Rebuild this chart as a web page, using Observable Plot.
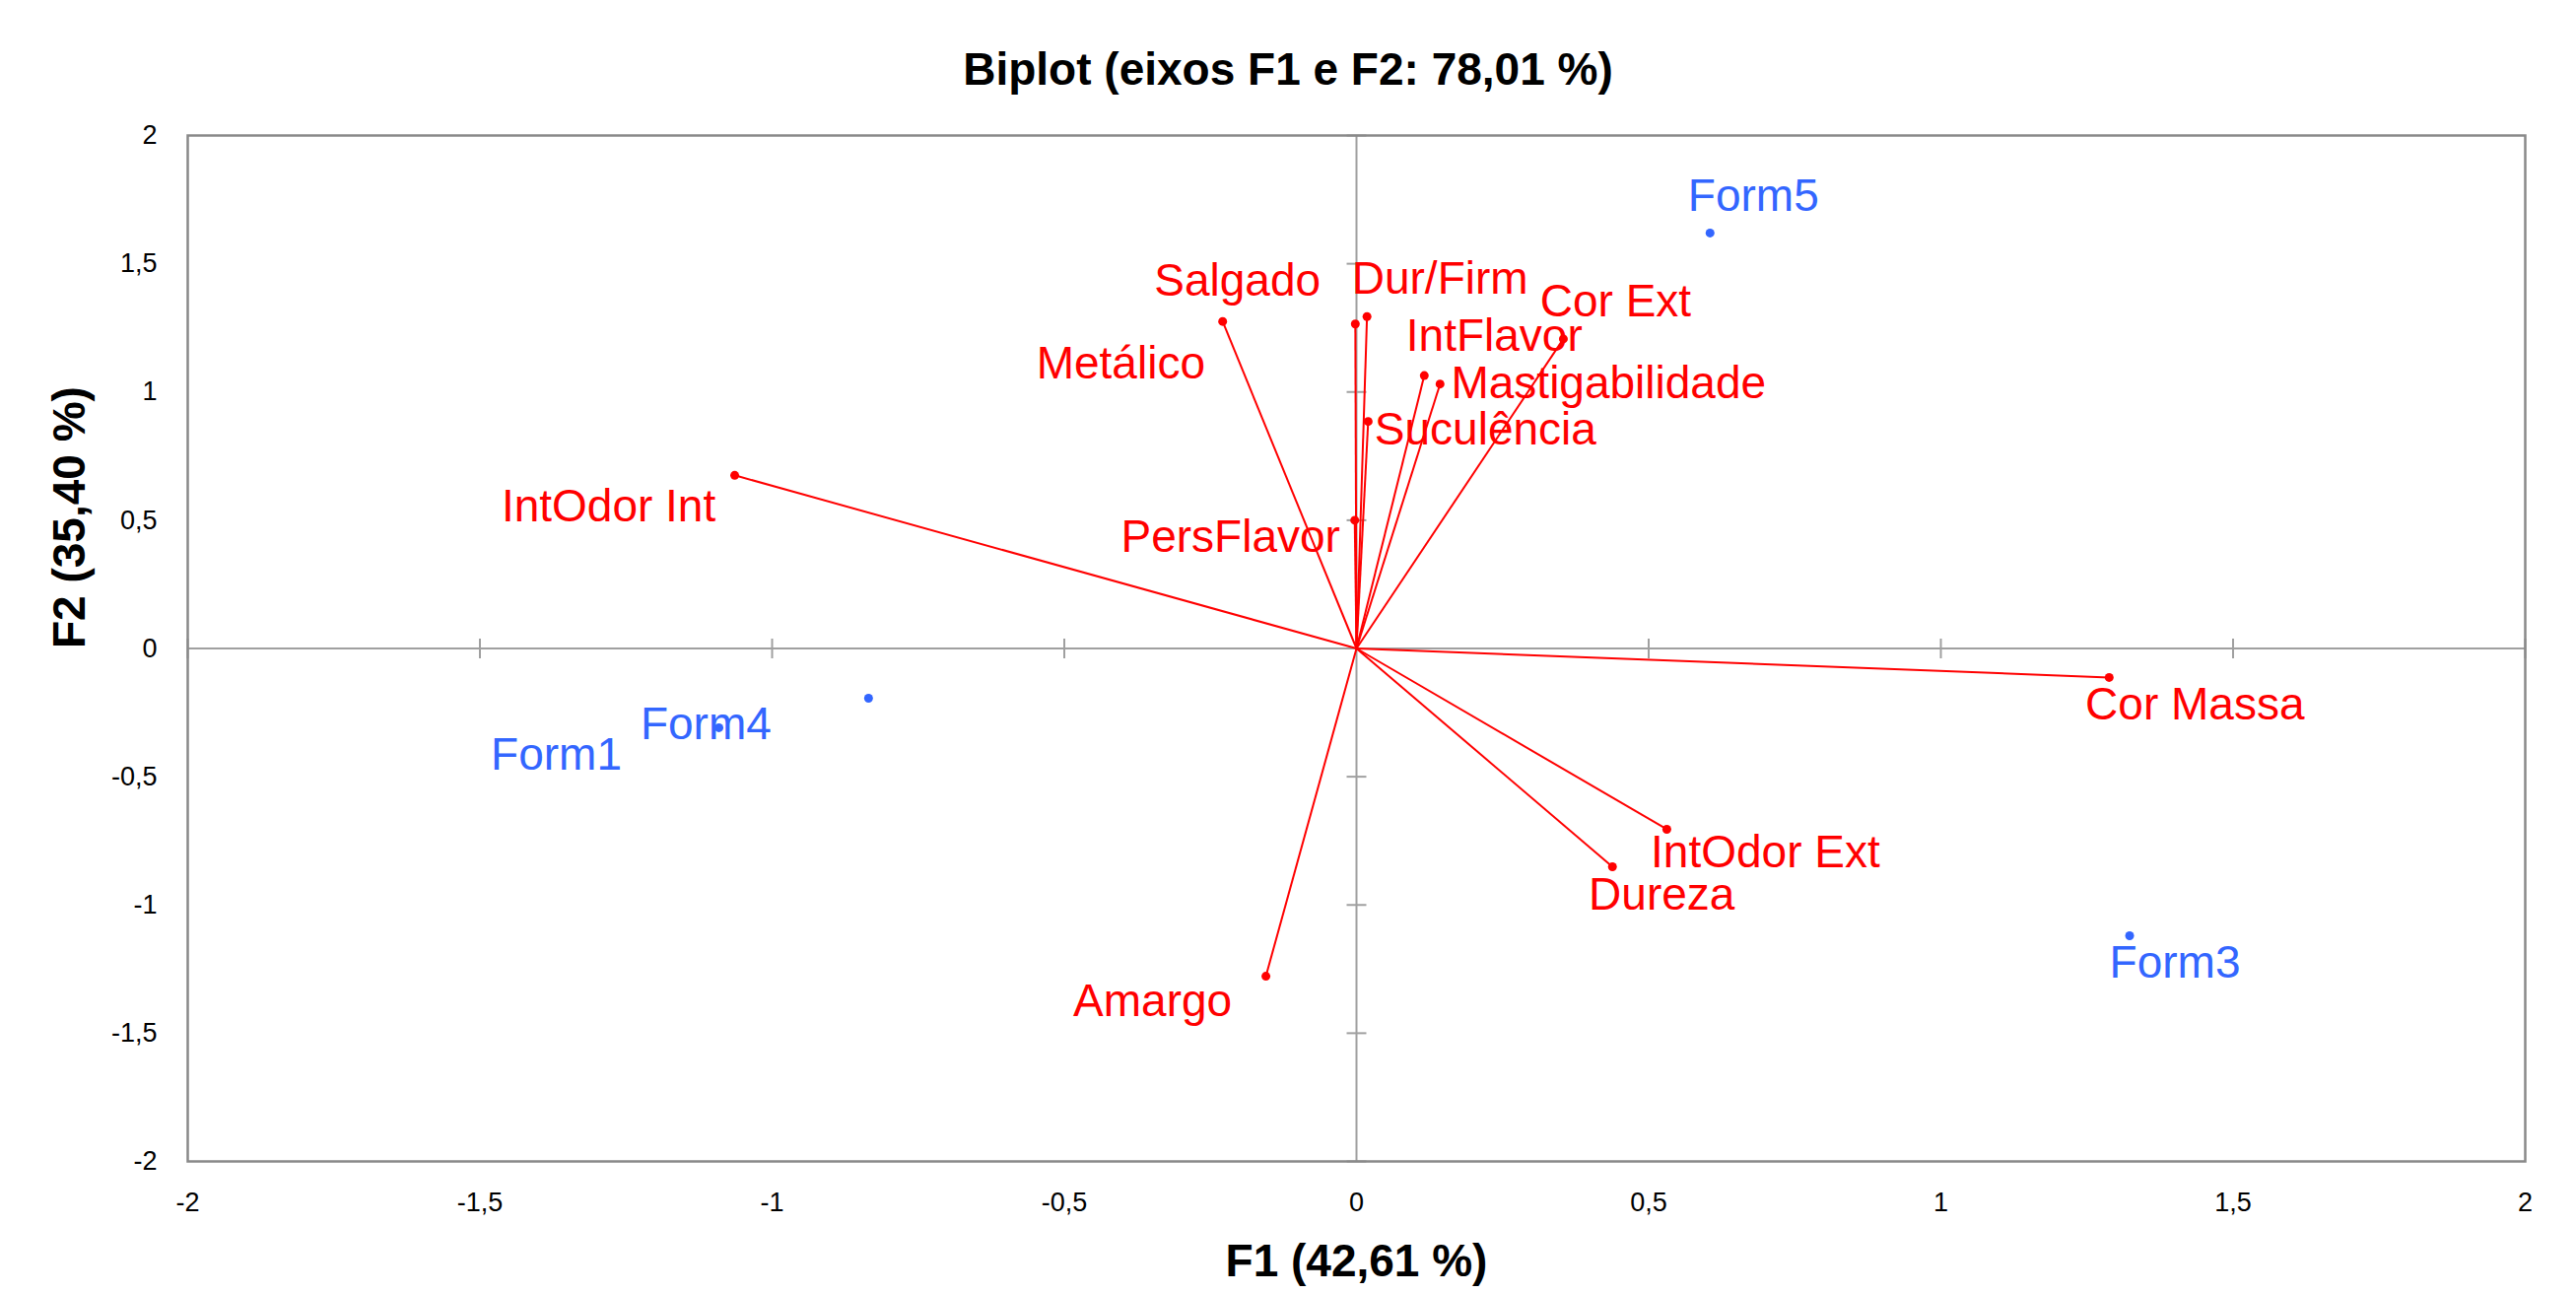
<!DOCTYPE html>
<html>
<head>
<meta charset="utf-8">
<script src="https://cdn.jsdelivr.net/npm/d3@7"></script>
<script src="https://cdn.jsdelivr.net/npm/@observablehq/plot@0.6"></script>
<style>
  html, body { margin: 0; padding: 0; background: #fff; }
  #title { width: 2614px; height: 65px; padding-top: 45px; line-height: 50px; text-align: center;
           font-family: "Liberation Sans", Arial, sans-serif; font-weight: bold; font-size: 46px; color: #000; }
</style>
</head>
<body>
<div id="title">Biplot (eixos F1 e F2: 78,01 %)</div>
<div id="chart"></div>
<script>
// Variables (red vectors)
const varNames = ["IntOdor Int", "Salgado", "Metálico", "Dur/Firm", "Cor Ext", "IntFlavor", "Mastigabilidade", "Suculência", "PersFlavor", "Cor Massa", "IntOdor Ext", "Dureza", "Amargo"];
const varF1 = [-1.064, -0.229, -0.002, 0.018, 0.354, 0.116, 0.143, 0.020, -0.003, 1.288, 0.531, 0.438, -0.155];
const varF2 = [0.675, 1.275, 1.265, 1.294, 1.207, 1.064, 1.031, 0.885, 0.500, -0.113, -0.705, -0.851, -1.278];

// Observations (blue points)
const obsNames = ["Form1", "Form3", "Form4", "Form5"];
const obsF1 = [-1.091, 1.323, -0.835, 0.605];
const obsF2 = [-0.309, -1.120, -0.194, 1.620];

// Tick values
const xTicks = [-2, -1.5, -1, -0.5, 0, 0.5, 1, 1.5, 2];
const yTicks = [-2, -1.5, -1, -0.5, 0, 0.5, 1, 1.5, 2];

const xTitle = "F1 (42,61 %)";
const yTitle = "F2 (35,40 %)";

// Label placement offsets (pixels)
const varLabelDx = [-128, 15, -238, 74, 53, 71, 171, 119, -126, 87, 100, 50, -115];
const varLabelDy = [32, -41, 40, -38, -38, -40, 0, 9, 17, 28, 24, 29, 26];
const obsLabelDx = [-165, 46, -165, 44];
const obsLabelDy = [28, 28, 27, -37];

const vars = varNames.map((n, i) => ({name: n, x: varF1[i], y: varF2[i]}));
const obs = obsNames.map((n, i) => ({name: n, x: obsF1[i], y: obsF2[i]}));

const fmt = d => String(d).replace(".", ",");
const vTick = {draw(ctx, size) { const r = Math.sqrt(size / Math.PI); ctx.moveTo(0, -r); ctx.lineTo(0, r); }};
const hTick = {draw(ctx, size) { const r = Math.sqrt(size / Math.PI); ctx.moveTo(-r, 0); ctx.lineTo(r, 0); }};

const red = "#ff0000";
const blue = "#3366ff";
const labelSize = 46;

const chart = Plot.plot({
  width: 2614,
  height: 1202,
  marginLeft: 190,
  marginRight: 52,
  marginTop: 27,
  marginBottom: 134,
  style: {fontFamily: "Liberation Sans, Arial, sans-serif", fontSize: "27px", background: "#fff", color: "#000"},
  x: {domain: [-2, 2]},
  y: {domain: [-2, 2]},
  marks: [
    Plot.ruleY([0], {stroke: "#a0a0a0", strokeWidth: 2}),
    Plot.ruleX([0], {stroke: "#a0a0a0", strokeWidth: 2}),
    Plot.dot(xTicks.filter(d => d !== 0), {x: d => d, y: () => 0, symbol: vTick, r: 10, stroke: "#a0a0a0", strokeWidth: 2, fill: "none"}),
    Plot.dot(yTicks.filter(d => d !== 0), {x: () => 0, y: d => d, symbol: hTick, r: 10, stroke: "#a0a0a0", strokeWidth: 2, fill: "none"}),
    Plot.frame({stroke: "#898989", strokeWidth: 2.5}),
    Plot.axisX(xTicks, {anchor: "bottom", tickSize: 0, tickPadding: 31, tickFormat: fmt, label: null, fontSize: 27}),
    Plot.axisY(yTicks, {anchor: "left", tickSize: 0, tickPadding: 31, tickFormat: fmt, label: null, fontSize: 27}),
    Plot.text([xTitle], {frameAnchor: "bottom", dy: 102, fontSize: 46, fontWeight: "bold", lineAnchor: "middle"}),
    Plot.text([yTitle], {frameAnchor: "left", dx: -119, rotate: -90, fontSize: 46, fontWeight: "bold", lineAnchor: "middle"}),
    Plot.link(vars, {x1: () => 0, y1: () => 0, x2: "x", y2: "y", stroke: red, strokeWidth: 2}),
    Plot.dot(vars, {x: "x", y: "y", r: 4.5, fill: red}),
    Plot.dot(obs, {x: "x", y: "y", r: 4.5, fill: blue}),
    ...vars.map((d, i) => Plot.text([d], {x: "x", y: "y", text: "name", dx: varLabelDx[i], dy: varLabelDy[i], fill: red, fontSize: labelSize, lineAnchor: "middle"})),
    ...obs.map((d, i) => Plot.text([d], {x: "x", y: "y", text: "name", dx: obsLabelDx[i], dy: obsLabelDy[i], fill: blue, fontSize: labelSize, lineAnchor: "middle"}))
  ]
});
document.getElementById("chart").appendChild(chart);
</script>
</body>
</html>
